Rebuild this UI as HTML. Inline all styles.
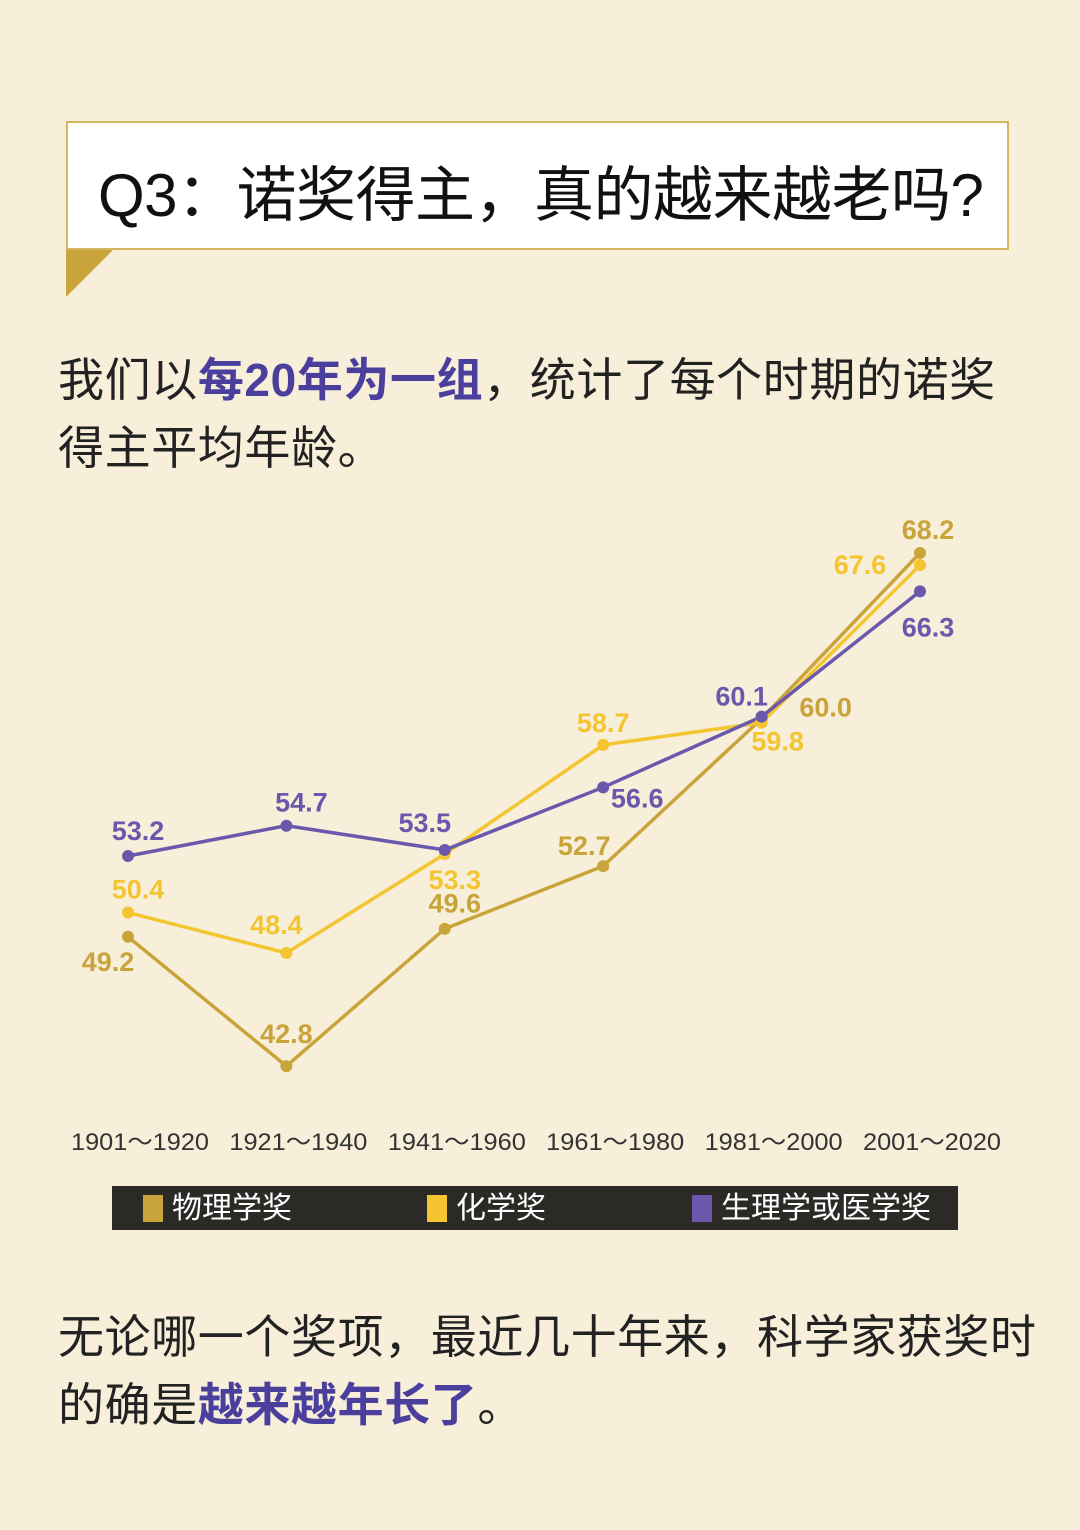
<!DOCTYPE html>
<html><head><meta charset="utf-8">
<style>
body{margin:0;width:1080px;height:1530px;background:#f7efd9;font-family:"Liberation Sans","Noto Sans CJK SC",sans-serif;position:relative;overflow:hidden}
.title{position:absolute;left:66px;top:121px;width:943px;height:129px;background:#fff;border:2px solid #d4b660;box-sizing:border-box}
.title span{position:absolute;left:30px;top:24px;font-size:60px;color:#111;white-space:nowrap;letter-spacing:-0.5px}
.tail{position:absolute;left:66px;top:250px;width:0;height:0;border-left:47px solid #c9a43a;border-bottom:47px solid transparent}
.p{position:absolute;left:58px;font-size:46px;color:#222;line-height:68px;white-space:nowrap;letter-spacing:0.6px}
.p b{color:#4b3f9e}
</style></head><body>
<div class="title"><span>Q3：诺奖得主，真的越来越老吗?</span></div>
<div class="tail"></div>
<div class="p" style="top:346px">我们以<b>每20年为一组</b>，统计了每个时期的诺奖<br>得主平均年龄。</div>
<svg id="chart" width="1080" height="1250" style="position:absolute;left:0;top:0"></svg>
<div class="p" style="top:1303px">无论哪一个奖项，最近几十年来，科学家获奖时<br>的确是<b>越来越年长了</b>。</div>
<script>
const categories=["1901～1920","1921～1940","1941～1960","1961～1980","1981～2000","2001～2020"];
const physics=[49.2,42.8,49.6,52.7,60.0,68.2];
const chemistry=[50.4,48.4,53.3,58.7,59.8,67.6];
const medicine=[53.2,54.7,53.5,56.6,60.1,66.3];
const legendLabels=["物理学奖","化学奖","生理学或医学奖"];
const svg=document.getElementById('chart');
const NS='http://www.w3.org/2000/svg';
function x(i){return 128+i*158.4;}
function y(v){return 553+(68.2-v)*20.2;}
function mk(t,a){const e=document.createElementNS(NS,t);for(const k in a)e.setAttribute(k,a[k]);svg.appendChild(e);return e;}
const series=[
 {d:physics,c:"#c9a43a",n:"physics",off:[[-20,25],[0,-32],[10,-25],[-19,-20],[64,-11],[8,-23]]},
 {d:chemistry,c:"#f5c531",n:"chemistry",off:[[10,-23],[-10,-28],[10,26],[0,-22],[16,19],[-60,0]]},
 {d:medicine,c:"#6a58ad",n:"medicine",off:[[10,-25],[15,-23],[-20,-27],[34,11],[-20,-20],[8,36]]}
];
series.forEach(s=>{
 const l=mk('polyline',{points:s.d.map((v,i)=>x(i)+','+y(v)).join(' '),fill:'none',stroke:s.c,'stroke-width':3.5});
 
 
});
series.forEach(s=>{
 s.d.forEach((v,i)=>{
  const c=mk('circle',{cx:x(i),cy:y(v),r:6,fill:s.c});
  
  
  const t=mk('text',{x:x(i)+s.off[i][0],y:y(v)+s.off[i][1]+9,'text-anchor':'middle','font-size':27,'font-weight':'bold',fill:s.c});
  t.textContent=v.toFixed(1);
  
  
 });
});
categories.forEach((c,i)=>{
 const t=mk('text',{x:x(i)+12,y:1150,'text-anchor':'middle','font-size':24,fill:'#333',textLength:138,lengthAdjust:'spacingAndGlyphs'});
 t.textContent=c;
 
 
});
const bg=mk('rect',{x:112,y:1186,width:846,height:44,fill:'#2b2a27'});


const lx=[143,427,692];
legendLabels.forEach((lab,i)=>{
 const r=mk('rect',{x:lx[i],y:1195,width:20,height:27,fill:series[i].c});
 
 
 const t=mk('text',{x:lx[i]+29,y:1218,'font-size':30,fill:'#fff'});
 t.textContent=lab;
 
 
});
</script>
</body></html>
